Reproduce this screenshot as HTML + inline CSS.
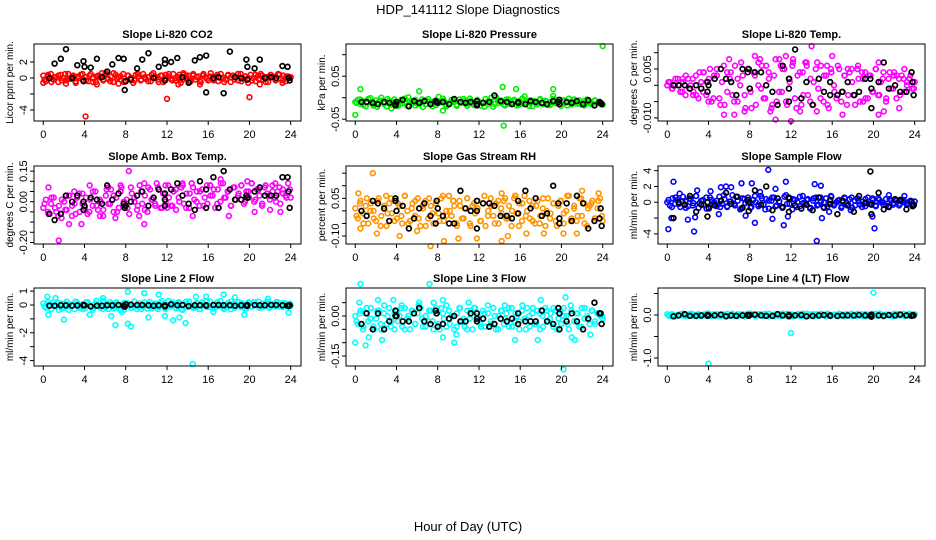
<!DOCTYPE html>
<html><head><meta charset="utf-8"><style>
html,body{margin:0;padding:0;background:#fff;}
svg{display:block;font-family:"Liberation Sans",sans-serif;}
</style></head><body>
<svg id="chart" width="936" height="540" xmlns="http://www.w3.org/2000/svg">
<rect width="936" height="540" fill="#fff"/>
<text x="468" y="14" font-size="13" text-anchor="middle">HDP_141112  Slope Diagnostics</text>
<text x="468" y="531" font-size="13" text-anchor="middle">Hour of Day (UTC)</text>
<g id="panels"></g>
</svg>
<script>
// shared hours of the black (reference) points
const blackHours=[0.6,1.1,1.7,2.2,2.8,3.3,3.9,3.9,4,4.6,5.2,5.7,6.2,6.7,7.3,7.8,7.9,8,8.5,9.1,9.6,10.2,10.7,11.2,11.8,11.8,11.8,12.4,13,13.5,14.1,14.7,15.2,15.8,15.8,16.5,17,17.5,18.1,18.6,19.2,19.7,19.8,19.8,20.5,21,21.5,22.1,22.6,23.2,23.7,23.8,23.9];
const xTicks=[0,4,8,12,16,20,24];

// Panel 1 CO2
const p1Cloud=[0.3,-0.4,0.2,0.5,-0.2,0.1,-0.5,0.4,0,-0.3,0.5,-0.1,0.3,-0.6,0.2,0.4,-0.2,0.1,-0.4,0.5,0,-0.5,0.3,0.2,-0.3,0.6,-0.1,0.2,-0.5,0.4,0.1,-0.2,0.5,-0.4,0.3,0,-0.6,0.4,0.2,-0.3,0.5,-0.1,0.1,-0.4,0.6,0,-0.2,0.3,-0.5,0.4,0.2,-0.1,0.5,-0.3,0.1,-0.6,0.4,0,0.3,-0.4,0.5,-0.2,0.2,-0.5,0.3,0.1,-0.3,0.6,-0.1,0.2,-0.4,0.5,0,-0.2,0.4,-0.5,0.3,0.1,-0.3,0.5,-0.1,0.2,-0.6,0.4,0,-0.4,0.3,0.5,-0.2,0.1,-0.5,0.4,0.2,-0.3,0.5,-0.1,0.3,-0.4,0.2,0.1];
const p1Cloud2=[-0.2,0.4,-0.5,0.1,0.3,-0.3,0.5,-0.1,0.2,-0.4,0,0.5,-0.3,0.3,-0.5,0.2,0.1,-0.2,0.4,-0.4,0.6,-0.1,0.2,-0.5,0.3,0,-0.3,0.5,-0.2,0.1,-0.4,0.4,0.2,-0.5,0.3,-0.1,0.5,-0.3,0,0.4,-0.2,0.2,-0.5,0.3,0.1,-0.4,0.5,-0.1,0.2,-0.3,0.4,0,-0.5,0.3,0.1,-0.2,0.5,-0.4,0.2,0,-0.3,0.4,-0.1,0.3,-0.5,0.2,0.1,-0.2,0.4,-0.3,0.2,0];
const p1OutHours=[4.1,12,20,0,2.2,5.2,7.3,13.1,15.2,21,23.2,5.7,13.6];
const p1OutVals=[-4.8,-2.6,-2.4,-0.6,-0.7,-0.8,-0.7,-0.8,-0.8,-0.8,-0.6,0.6,0.6];
const p1Black=[0,1.8,2.4,3.6,0,1.6,2.1,-0.4,1.4,1.3,2.4,0.1,0.8,1.7,2.5,2.4,-1.5,-0.4,-0.2,1.2,2.3,3.1,0,1.4,2.3,1.8,-0.3,2,2.5,0.1,-0.6,2.2,2.6,2.8,-1.8,0,0.1,-1.9,3.3,0.1,0,2.3,1.4,-0.2,1.2,2.3,0,0.1,0,1.5,1.4,0,-0.3];
const p1Ticks=[-4,-2,0,2];const p1Labels=["-4","","0","2"];

// Panel 2 Pressure
const p2Cloud=[-0.01,-0.005,-0.015,-0.008,-0.02,-0.003,-0.012,-0.018,-0.006,-0.01,0,-0.014,-0.02,-0.007,-0.011,-0.004,-0.016,-0.009,-0.013,-0.002,-0.019,-0.008,-0.012,-0.005,-0.015,-0.01,-0.022,-0.006,-0.003,-0.014,-0.009,-0.017,0.002,-0.011,-0.007,-0.02,-0.013,-0.005,-0.01,-0.016,-0.004,-0.012,-0.008,-0.019,-0.002,-0.014,-0.01,-0.006,-0.018,-0.011,-0.003,-0.015,-0.009,-0.021,0.001,-0.012,-0.007,-0.016,-0.004,-0.013,-0.01,-0.005,-0.018,-0.008,-0.014,0.003,-0.011,-0.006,-0.02,-0.009,-0.015,-0.003,-0.012,-0.007,-0.017,-0.01,0.004,-0.013,-0.005,-0.019,-0.008,-0.011,-0.002,-0.016,-0.009,-0.014,-0.006,-0.012,-0.018,-0.004,-0.01,-0.015,-0.007,-0.013,-0.011,-0.016];
const p2Cloud2=[-0.012,-0.004,-0.017,-0.009,-0.001,-0.014,-0.021,-0.007,-0.011,-0.003,-0.016,-0.01,-0.019,-0.005,-0.013,0.001,-0.008,-0.018,-0.012,-0.004,-0.015,-0.009,-0.02,-0.006,-0.011,-0.002,-0.016,-0.013,-0.007,-0.019,-0.01,-0.003,-0.014,-0.008,-0.017,-0.005,-0.012,-0.021,-0.009,0,-0.015,-0.006,-0.011,-0.018,-0.004,-0.013,-0.008,-0.016,-0.002,-0.01,-0.019,-0.007,-0.012,-0.005,-0.015,-0.009,-0.017,-0.003,-0.011,-0.014,-0.006,-0.018,-0.01,-0.004,-0.013,-0.016,-0.008,-0.012,-0.015,-0.006,-0.011,-0.014];
const p2OutHours=[0,0.5,14.4,14.3,15.6,19.2,24,8.5,6.2,3.5];
const p2OutVals=[-0.04,0.02,-0.065,0.025,0.02,0.02,0.12,-0.03,0.015,-0.025];
const p2Black=[-0.01,-0.01,-0.012,-0.015,-0.01,-0.012,-0.018,-0.015,-0.01,-0.005,-0.02,-0.008,-0.012,-0.008,-0.015,-0.008,-0.01,-0.012,-0.01,-0.015,-0.003,-0.01,-0.012,-0.01,-0.015,-0.018,-0.008,-0.012,-0.01,0.005,-0.008,-0.01,-0.015,-0.01,-0.012,-0.015,-0.008,-0.01,-0.012,-0.015,-0.008,-0.01,-0.005,-0.015,-0.01,-0.012,-0.008,-0.015,-0.006,-0.018,-0.01,-0.012,-0.015];
const p2Ticks=[-0.05,0,0.05,0.1];const p2Labels=["-0.05","","0.05",""];

// Panel 3 Li-820 Temp
const p3Cloud=[0,0.001,-0.001,0,0.002,-0.002,0.001,-0.003,0.002,0,-0.002,0.003,-0.004,0.001,0.004,-0.003,0.002,-0.005,0.003,0.005,-0.004,0.001,-0.006,0.004,0.002,-0.003,0.006,-0.005,0,0.003,-0.007,0.005,-0.002,0.004,-0.006,0.007,-0.001,-0.004,0.006,0.002,-0.007,0.003,-0.005,0.008,-0.002,0.005,-0.006,0.001,0.006,-0.004,0.003,-0.008,0.004,0.007,-0.003,0.002,-0.006,0.005,-0.001,0.006,-0.005,0.003,-0.007,0.004,0,-0.004,0.005,-0.002,0.003,-0.006,0.004,0.001,-0.003,0.005,-0.005,0.002,0.004,-0.004,0.003,-0.002,0.005,-0.003,0.001,0.004,-0.005,0.002,-0.001,0.003,-0.004,0.002,0.003,-0.002,0.001,0.002,-0.001,0.001];
const p3Cloud2=[0.001,-0.001,0.002,0,-0.002,0.003,-0.001,0.002,-0.003,0.004,-0.002,0.001,0.005,-0.004,0.003,-0.006,0.006,-0.002,0.004,-0.005,0.002,0.007,-0.003,0.005,-0.007,0.003,0,0.006,-0.004,0.004,-0.006,0.008,-0.002,0.005,-0.005,0.002,0.007,-0.007,0.004,-0.003,0.006,-0.005,0.001,0.007,-0.004,0.003,-0.006,0.005,-0.002,0.006,-0.005,0.003,-0.003,0.005,-0.006,0.002,0.004,-0.004,0.003,-0.002,0.005,-0.003,0.002,-0.004,0.004,-0.001,0.003,-0.003,0.002,0,0.003,-0.001];
const p3OutHours=[3.5,6,6.5,5.5,8.5,9,10,10.5,11,11.5,12,12.2,13.5,14,14.5,15.5,16,17,17.5,18.5,19,20.5,20.5,21,22,22.5,23,4,7.5,13,2.5,1.5];
const p3OutVals=[0.004,0.008,-0.009,-0.009,0.009,0.008,-0.008,-0.0105,0.006,0.009,-0.011,0.008,0.007,0.012,-0.008,0.006,0.009,-0.009,0.005,0.006,-0.005,0.007,-0.009,-0.008,0.004,-0.007,0.005,-0.005,-0.008,-0.006,-0.003,0.002];
const p3Black=[0,0,0,-0.001,0,-0.001,0.001,-0.002,0,0.002,0.005,0.002,0.001,-0.003,0.005,0.004,0.005,-0.001,0.004,0.004,0,-0.002,-0.006,0.006,0.002,-0.001,-0.005,0.011,-0.004,0.001,-0.006,0.002,-0.002,0.001,-0.003,-0.003,-0.002,0.001,-0.003,-0.002,0.002,0.002,-0.001,-0.007,0.001,0.007,-0.001,0,-0.002,-0.002,0.004,0.001,-0.003];
const p3Ticks=[-0.01,-0.005,0,0.005,0.01];const p3Labels=["-0.010","","","0.005",""];

// Panel 4 Amb Box Temp
const p4Cloud=[-0.03,0.01,-0.06,-0.01,0.02,-0.05,-0.02,-0.08,0,-0.04,0.03,-0.07,-0.01,0.02,-0.05,0.04,-0.03,-0.06,0.01,-0.02,0.05,-0.04,0,-0.07,0.03,-0.01,0.06,-0.05,0.02,-0.03,0.07,-0.02,0.01,-0.06,0.04,0,-0.04,0.08,-0.01,0.03,-0.05,0.06,0.01,-0.02,0.07,-0.03,0.04,0,0.08,-0.02,0.05,-0.04,0.02,0.07,-0.01,0.04,-0.03,0.09,0.01,0.05,-0.02,0.06,0.02,-0.01,0.08,0.03,-0.03,0.06,0,0.09,0.02,0.05,-0.02,0.07,0.01,0.04,0.08,-0.01,0.05,0.02,0.09,0,0.06,0.03,-0.02,0.07,0.04,0.01,0.08,0.02,0.05,-0.01,0.06,0.03,0.09,0.02];
const p4Cloud2=[-0.01,-0.05,0.02,-0.03,-0.07,0.01,-0.04,0.03,-0.02,-0.06,0.04,-0.01,0.02,-0.05,0.05,-0.02,0.01,-0.04,0.06,-0.01,0.03,-0.05,0.05,0,-0.03,0.07,0.02,-0.02,0.05,-0.04,0.07,0.01,-0.01,0.06,-0.03,0.08,0.02,-0.02,0.06,0,0.08,-0.03,0.04,0.07,0,0.05,-0.02,0.08,0.03,0.06,-0.01,0.09,0.02,0.05,-0.02,0.07,0.03,0.08,0,0.05,0.09,0.01,0.06,-0.01,0.08,0.03,0.05,0,0.07,0.04,0.02,0.06];
const p4OutHours=[0.5,1.5,2.5,3.7,4.5,5.5,7,7.5,8.3,9.8,9.3,9.8,11,12,13.5,14.5,16.2,17.2,18,19.8,20.5,22.5,23,22,3,6.3];
const p4OutVals=[0.07,-0.19,-0.11,-0.11,0.08,-0.07,-0.08,0.08,0.15,0.09,-0.07,-0.11,0.09,-0.03,0.09,-0.07,0.08,0.11,-0.07,0.1,-0.05,0.09,-0.05,-0.04,0.05,0.07];
const p4Black=[-0.06,-0.09,-0.06,0.03,0,0.03,0,-0.04,-0.02,0.02,0.01,-0.01,0.08,0.01,0.04,-0.01,-0.03,-0.02,0,0.03,0.05,-0.02,0.02,0.06,0.04,0.01,-0.02,0.06,0.09,0.03,-0.01,-0.04,0.1,0.06,-0.03,0.12,-0.03,0.15,0.06,0.01,0.01,0.03,0.02,0.02,0.05,0.07,0.03,0.03,0.03,0.12,0.12,0.05,-0.03];
const p4Ticks=[-0.2,-0.15,-0.1,-0.05,0,0.05,0.1,0.15];const p4Labels=["-0.20","","","","0.00","","","0.15"];

// Panel 5 Gas Stream RH
const p5Cloud=[0.01,-0.03,0.04,-0.01,0.02,-0.05,0.03,0,-0.04,0.05,-0.02,0.01,-0.06,0.03,-0.01,0.04,-0.03,0.02,-0.05,0.06,0,-0.04,0.03,-0.02,0.05,-0.06,0.01,0.04,-0.03,0.02,-0.05,0.03,-0.01,0.05,-0.04,0,0.06,-0.02,0.02,-0.06,0.04,-0.03,0.01,0.05,-0.05,0.02,-0.01,0.04,-0.04,0.03,-0.06,0,0.05,-0.02,0.03,-0.05,0.01,0.04,-0.03,0.02,-0.06,0.05,-0.01,0.03,-0.04,0.06,0,-0.03,0.02,-0.05,0.04,-0.02,0.01,-0.06,0.05,-0.01,0.03,-0.04,0.02,0.04,-0.05,0,0.06,-0.03,0.01,-0.04,0.05,-0.02,0.03,-0.06,0.02,0.04,-0.03,0.01,0.05,-0.04];
const p5Cloud2=[-0.02,0.03,-0.05,0.05,0,-0.03,0.04,-0.06,0.02,-0.01,0.05,-0.04,0.03,-0.02,0.06,-0.05,0.01,0.04,-0.03,0.02,-0.06,0.05,-0.01,0.03,-0.04,0.06,-0.02,0,0.04,-0.05,0.02,-0.03,0.05,-0.06,0.03,0.01,-0.04,0.06,-0.02,0.02,-0.05,0.04,-0.01,0.05,-0.03,0,0.06,-0.06,0.03,-0.02,0.04,-0.04,0.02,-0.05,0.05,0,-0.03,0.03,-0.06,0.04,-0.01,0.06,-0.04,0.02,-0.02,0.05,-0.05,0.01,0.03,-0.03,0.04,-0.02];
const p5OutHours=[1.7,0.3,0.5,2.1,4.3,7.3,8.6,10,11.8,14.2,14.2,14.8,15.5,16.6,18.3,20.2,21.5,22,23.6,6,3,9.5];
const p5OutVals=[0.15,0.07,-0.07,-0.09,-0.1,-0.14,-0.12,-0.11,-0.11,-0.12,0.07,-0.1,0.06,-0.09,-0.09,-0.09,-0.09,0.08,0.07,-0.08,0.06,0.04];
const p5Black=[0,-0.02,0.04,0.03,0.01,-0.04,0.04,0.05,0,0.02,-0.07,-0.03,0.01,0.03,-0.02,-0.05,0.04,0.01,-0.02,-0.05,-0.05,0.08,0.01,0,0.04,0,-0.07,0.03,0.03,0.02,-0.02,-0.02,-0.03,0.04,-0.01,0.08,0.01,0.05,-0.02,-0.01,0.1,0.03,-0.03,-0.05,0.03,-0.04,0.06,0.03,-0.07,-0.04,-0.03,0.01,-0.06];
const p5Ticks=[-0.1,-0.05,0,0.05,0.1,0.15];const p5Labels=["-0.10","","","0.05","",""];

// Panel 6 Sample Flow
const p6Cloud=[0,-0.4,0.5,-0.2,0.3,-0.6,0.7,0.1,-0.5,0.4,-0.1,0.8,-0.7,0.2,-0.3,0.6,-0.8,0.3,0,-0.5,0.7,-0.2,0.4,-0.6,0.1,0.9,-0.4,0.2,-0.9,0.5,-0.1,0.6,-0.7,0.3,0,-0.5,0.8,-0.3,0.4,-0.8,0.2,0.6,-0.4,0.1,-0.6,0.7,-0.2,0.5,-0.9,0.3,0,-0.5,0.8,-0.1,0.4,-0.7,0.2,0.6,-0.3,0.1,-0.6,0.5,-0.2,0.7,-0.4,0,0.3,-0.5,0.6,-0.1,0.4,-0.7,0.2,0.5,-0.3,0.1,-0.5,0.6,-0.2,0.3,-0.4,0.5,0,-0.3,0.4,-0.5,0.2,-0.1,0.3,-0.4,0.2,0,-0.3,0.1,-0.2,0.1];
const p6Cloud2=[0.3,-0.6,0.6,-0.2,0.1,-0.7,0.5,-0.4,0.8,-0.1,0.3,-0.8,0.6,-0.3,0.2,-0.6,0.9,-0.5,0.1,-0.2,0.7,-0.8,0.4,0,-0.6,0.8,-0.3,0.5,-0.9,0.2,0.6,-0.5,0.1,-0.7,0.9,-0.2,0.4,-0.6,0.7,-0.1,0.3,-0.8,0.5,-0.4,0.6,0,-0.5,0.8,-0.2,0.2,-0.7,0.5,-0.3,0.6,-0.4,0.1,-0.6,0.4,-0.2,0.5,-0.5,0.3,0,-0.4,0.4,-0.3,0.2,-0.2,0.3,-0.1,0.2,-0.3];
const p6OutHours=[0.1,0.4,0.6,1.2,2,2.6,2.7,2.9,4.2,5.2,5.7,6.2,7.2,7.6,8.2,8.5,9.8,10.2,10.5,11.5,11.7,11.3,14.3,14.5,14.9,15,15.7,19.9,20.1,5,9,17.8,21.5,23];
const p6OutVals=[-3.4,-2,2.6,1.1,-2.2,-3.7,-1.9,1.5,1.4,1.9,2,1.9,2.4,-1.7,2.4,-2.6,4.1,-2.1,1.7,2.6,-1.8,-2.9,2.3,-4.9,2.1,-2,-1.2,-1.8,-3.3,-1.5,1.3,-1,0.9,0.8];
const p6Black=[-2,0,-0.3,0.8,-1.2,-0.3,-1.8,0,-0.7,-0.4,0.2,1.2,-0.2,0.7,-0.7,0.3,-1.1,0,1.5,-0.3,2,-1,0.5,-0.6,0.6,0.5,-1.2,-0.4,-0.8,-0.3,-1,0.6,-0.7,0.3,-0.2,-1.5,0.2,-0.4,-1.2,0.8,-0.1,3.9,-0.3,-1.5,1.2,-0.9,-0.6,0.4,0.3,-0.9,0.1,-0.5,-0.4];
const p6Ticks=[-4,-2,0,2,4];const p6Labels=["-4","","0","2","4"];

// Panel 7 Line 2 Flow
const p7Cloud=[0.1,-0.2,0,-0.3,0.2,-0.1,-0.35,0.1,-0.2,0.25,-0.1,0,-0.3,0.15,-0.2,0.05,-0.25,0.2,-0.1,-0.35,0.1,0,-0.2,0.3,-0.15,-0.3,0.05,-0.1,0.2,-0.25,0,-0.35,0.15,-0.05,-0.2,0.25,-0.3,0.1,-0.1,0,-0.25,0.2,-0.15,0.05,-0.3,0.15,-0.05,-0.2,0.3,-0.1,0,-0.25,0.2,-0.3,0.05,-0.15,0.25,-0.05,-0.2,0.1,-0.3,0.2,0,-0.15,0.25,-0.25,0.05,-0.1,0.3,-0.2,0,0.15,-0.3,0.1,-0.05,0.2,-0.15,0.05,-0.25,0.15,-0.1,0.2,0,-0.2,0.1,-0.05,0.25,-0.15,0.05,-0.1,0.2,0,-0.15,0.1,0.05,-0.05];
const p7Cloud2=[-0.1,0.2,-0.3,0,0.15,-0.25,0.1,-0.35,0.05,0.25,-0.15,-0.3,0.2,0,-0.2,0.3,-0.1,-0.3,0.1,0.2,-0.25,0.05,-0.35,0.15,0,-0.2,0.25,-0.1,-0.3,0.2,0.05,-0.25,0.1,-0.15,0.3,-0.3,0,0.2,-0.2,0.1,-0.35,0.25,-0.05,-0.2,0.15,-0.3,0.05,0.3,-0.15,-0.25,0.2,0,-0.3,0.1,0.25,-0.2,-0.05,0.15,-0.25,0.2,-0.1,0,0.25,-0.15,0.1,-0.2,0.05,0.2,-0.1,0.15,-0.05,0.1];
const p7OutHours=[0.4,0.5,1.2,2,4.5,5.8,6.6,7,7.6,8.2,8.2,8.5,9.8,10.2,11.2,11.8,12.6,13.2,13.8,14.5,14.8,15.8,16.5,17.5,18.6,19.5,23.8,21.8];
const p7OutVals=[0.6,-0.7,0.5,-1.05,-0.7,0.5,-0.8,-1.45,-0.5,0.95,-1.35,-1.55,0.85,-0.9,0.75,-0.8,-1.1,-0.9,-1.3,-4.25,0.6,0.6,-0.5,0.75,0.55,-0.7,-0.55,0.45];
const p7Black=[-0.05,-0.05,-0.02,-0.03,-0.05,-0.03,0,-0.02,-0.02,-0.1,-0.05,-0.05,-0.02,-0.03,0,-0.05,-0.12,0.05,0.02,0,0,-0.02,-0.05,-0.02,-0.05,-0.1,-0.03,0.05,-0.02,0,-0.08,-0.02,-0.02,-0.05,-0.02,0,0,-0.02,-0.02,-0.05,-0.02,-0.05,0,-0.05,0,-0.02,-0.02,0,0,-0.02,-0.05,-0.08,-0.02];
const p7Ticks=[-4,-3,-2,-1,0,1];const p7Labels=["-4","","-2","","0","1"];

// Panel 8 Line 3 Flow
const p8Cloud=[0,-0.03,0.02,-0.05,0.01,-0.02,0.03,-0.04,-0.01,0.02,-0.05,0.01,-0.03,0.03,-0.02,-0.05,0.02,0,-0.04,0.03,-0.01,-0.05,0.02,-0.03,0.01,0.03,-0.04,0,-0.02,0.02,-0.05,0.01,-0.03,0.03,-0.01,-0.04,0.02,0,-0.05,0.01,0.03,-0.02,-0.04,0.02,-0.01,-0.05,0.03,0,-0.03,0.02,-0.04,0.01,-0.02,0.03,-0.05,0,0.02,-0.03,0.01,-0.04,0.03,-0.02,0,-0.05,0.02,-0.01,0.03,-0.04,0.01,-0.03,0.02,-0.05,0,0.03,-0.02,0.01,-0.04,0.02,-0.01,-0.03,0.03,0,-0.05,0.02,-0.02,0.01,-0.04,0.03,-0.01,0,-0.03,0.02,-0.02,0.01,0,-0.01];
const p8Cloud2=[-0.02,0.01,-0.04,0.03,-0.01,-0.05,0.02,-0.03,0.04,0,-0.04,0.01,-0.02,0.03,-0.05,0,0.02,-0.03,0.04,-0.01,-0.04,0.02,-0.02,0.03,-0.05,0.01,0.04,-0.03,0,-0.04,0.03,-0.01,-0.05,0.02,0.03,-0.02,-0.04,0.01,0.04,-0.03,0,-0.05,0.02,-0.01,0.03,-0.04,0.01,-0.02,0.04,-0.05,0,0.03,-0.03,0.01,-0.04,0.02,-0.01,0.03,-0.05,0.02,0,-0.03,0.04,-0.02,0.01,-0.04,0.03,-0.01,0.02,-0.03,0.01,0];
const p8OutHours=[0,0.5,0.4,1,1.3,2.2,2.6,3.7,4.5,6.2,7.2,7.6,8.5,8.5,9.6,9.8,14.5,15.5,17.7,18,20.2,20.4,21,21.3,22.8,11];
const p8OutVals=[-0.1,0.12,0.05,-0.11,-0.08,0.06,-0.09,0.06,0.04,0.05,0.12,0.05,0.06,-0.08,-0.1,-0.07,0.04,-0.09,-0.09,0.06,-0.2,0.07,-0.08,-0.09,-0.07,0.05];
const p8Black=[-0.03,0.01,-0.05,0.01,-0.05,-0.02,0,0.02,0,-0.02,-0.02,0.01,0.03,-0.02,-0.03,0.02,0.01,-0.04,-0.03,-0.01,0,-0.02,-0.02,0.01,0.01,-0.02,-0.01,-0.01,-0.04,-0.03,-0.01,-0.02,-0.01,0.01,-0.03,-0.02,-0.02,-0.02,0.02,-0.02,-0.03,0.03,-0.05,0.01,-0.02,0.01,-0.02,-0.05,-0.01,0.05,0.01,0.01,-0.03];
const p8Ticks=[-0.15,-0.1,-0.05,0,0.05];const p8Labels=["-0.15","","","0.00",""];

// Panel 9 Line 4 (LT) Flow
const p9Cloud=[0.02,-0.02,0.01,-0.03,0,0.02,-0.01,-0.03,0.01,0.03,-0.02,0,0.02,-0.03,0.01,-0.01,0.03,-0.02,0,0.02,-0.03,0.01,-0.01,0.02,-0.02,0.03,0,-0.03,0.01,0.02,-0.01,-0.02,0.03,0,-0.03,0.01,0.02,-0.02,0,0.03,-0.01,-0.03,0.02,0.01,-0.02,0,0.03,-0.03,0.01,-0.01,0.02,-0.02,0.03,0,-0.03,0.01,0.02,-0.01,-0.02,0.03,0,-0.03,0.02,-0.01,0.01,-0.02,0.03,0,-0.03,0.02,0.01,-0.02,0,0.03,-0.01,-0.03,0.02,0.01,-0.02,0,0.03,-0.01,0.02,-0.03,0.01,0,-0.02,0.03,-0.01,0.02,0,-0.02,0.01,0.03,-0.01,0.02];
const p9Cloud2=[-0.01,0.02,-0.03,0.01,0.03,-0.02,0,0.02,-0.03,0.01,-0.01,0.03,-0.02,0.02,0,-0.03,0.01,0.03,-0.01,-0.02,0.02,0,-0.03,0.03,0.01,-0.02,0.02,-0.01,0.03,-0.03,0,0.01,-0.02,0.03,-0.01,0.02,-0.03,0,0.02,-0.02,0.03,0.01,-0.03,0.02,-0.01,0,0.03,-0.02,0.01,-0.03,0.02,0,-0.01,0.03,-0.02,0.01,0.02,-0.03,0,0.02,-0.01,0.03,-0.02,0.01,0,-0.03,0.02,-0.01,0.03,0,-0.02,0.01];
const p9OutHours=[4,12,20];
const p9OutVals=[-1.13,-0.42,0.52];
const p9Black=[-0.03,-0.01,0.02,-0.02,-0.02,-0.01,-0.02,0,-0.01,-0.01,0.01,-0.03,-0.01,-0.02,-0.01,0,-0.02,0,0.01,-0.01,-0.02,-0.02,0.02,-0.01,-0.01,-0.03,0,-0.01,0,-0.03,-0.02,-0.01,0,-0.01,-0.02,-0.02,-0.01,-0.01,-0.01,0,-0.01,-0.02,-0.04,0.01,-0.01,-0.02,0,-0.01,0.01,-0.01,-0.02,0,-0.01];
const p9Ticks=[-1,-0.5,0,0.5];const p9Labels=["-1.0","","0.0",""];

const NS="http://www.w3.org/2000/svg";
const panelsG=document.getElementById('panels');
const cols=[[34,301],[346,613],[658,925]];
const rows=[[44,121],[166,244],[288,366]];
const XLIM=[-0.9,25.0];

const panels=[
 {key:'co2',title:'Slope Li-820 CO2',ylab:'Licor ppm per min.',col:'#ff0000',ylim:[-5.375,4.25],cloud:p1Cloud,cloud2:p1Cloud2,oh:p1OutHours,ov:p1OutVals,black:p1Black,ticks:p1Ticks,labels:p1Labels},
 {key:'pressure',title:'Slope Li-820 Pressure',ylab:'kPa per min.',col:'#00ee00',ylim:[-0.0542,0.1249],cloud:p2Cloud,cloud2:p2Cloud2,oh:p2OutHours,ov:p2OutVals,black:p2Black,ticks:p2Ticks,labels:p2Labels},
 {key:'li820-temp',title:'Slope Li-820 Temp.',ylab:'degrees C per min.',col:'#ff00ff',ylim:[-0.01095,0.01267],cloud:p3Cloud,cloud2:p3Cloud2,oh:p3OutHours,ov:p3OutVals,black:p3Black,ticks:p3Ticks,labels:p3Labels},
 {key:'amb-temp',title:'Slope Amb. Box Temp.',ylab:'degrees C per min.',col:'#ff00ff',ylim:[-0.2074,0.175],cloud:p4Cloud,cloud2:p4Cloud2,oh:p4OutHours,ov:p4OutVals,black:p4Black,ticks:p4Ticks,labels:p4Labels},
 {key:'rh',title:'Slope Gas Stream RH',ylab:'percent per min.',col:'#ff9400',ylim:[-0.1317,0.1786],cloud:p5Cloud,cloud2:p5Cloud2,oh:p5OutHours,ov:p5OutVals,black:p5Black,ticks:p5Ticks,labels:p5Labels},
 {key:'sample-flow',title:'Slope Sample Flow',ylab:'ml/min per min.',col:'#0000ff',ylim:[-5.28,4.59],cloud:p6Cloud,cloud2:p6Cloud2,oh:p6OutHours,ov:p6OutVals,black:p6Black,ticks:p6Ticks,labels:p6Labels},
 {key:'line2-flow',title:'Slope Line 2 Flow',ylab:'ml/min per min.',col:'#00ffff',ylim:[-4.39,1.223],cloud:p7Cloud,cloud2:p7Cloud2,oh:p7OutHours,ov:p7OutVals,black:p7Black,ticks:p7Ticks,labels:p7Labels},
 {key:'line3-flow',title:'Slope Line 3 Flow',ylab:'ml/min per min.',col:'#00ffff',ylim:[-0.1873,0.1049],cloud:p8Cloud,cloud2:p8Cloud2,oh:p8OutHours,ov:p8OutVals,black:p8Black,ticks:p8Ticks,labels:p8Labels},
 {key:'line4-flow',title:'Slope Line 4 (LT) Flow',ylab:'ml/min per min.',col:'#00ffff',ylim:[-1.186,0.628],cloud:p9Cloud,cloud2:p9Cloud2,oh:p9OutHours,ov:p9OutVals,black:p9Black,ticks:p9Ticks,labels:p9Labels}
];

function mk(tag,attrs,parent){const e=document.createElementNS(NS,tag);for(const k in attrs)e.setAttribute(k,attrs[k]);parent.appendChild(e);return e;}

panels.forEach((p,i)=>{
  const [L,R]=cols[i%3];const [T,B]=rows[Math.floor(i/3)];
  const xs=h=>L+(h-XLIM[0])/(XLIM[1]-XLIM[0])*(R-L);
  const ys=v=>B-(v-p.ylim[0])/(p.ylim[1]-p.ylim[0])*(B-T);
  const g=mk('g',{},panelsG);
  
  
  const t=mk('text',{x:(L+R)/2,y:T-6,'font-size':11,'font-weight':'bold','text-anchor':'middle'},g);
  t.textContent=p.title;
  
  
  const yl=mk('text',{x:L-21,y:(T+B)/2,'font-size':10,'text-anchor':'middle',transform:`rotate(-90 ${L-21} ${(T+B)/2})`},g);
  yl.textContent=p.ylab;
  
  
  const pts=mk('g',{fill:'none'},g);
  
  
  const n=p.cloud.length;
  p.cloud.forEach((v,k)=>{
    const c=mk('circle',{cx:xs(k*24/(n-1)),cy:ys(v),r:2.4,stroke:p.col,'stroke-width':1.6},pts);
    
    
  });
  const n2=p.cloud2.length;
  p.cloud2.forEach((v,k)=>{
    const c=mk('circle',{cx:xs(0.12+k*23.8/(n2-1)),cy:ys(v),r:2.4,stroke:p.col,'stroke-width':1.6},pts);
    
    
  });
  p.oh.forEach((h,k)=>{
    const c=mk('circle',{cx:xs(h),cy:ys(p.ov[k]),r:2.4,stroke:p.col,'stroke-width':1.6},pts);
    
    
  });
  const bg=mk('g',{fill:'none'},g);
  
  
  p.black.forEach((v,k)=>{
    const c=mk('circle',{cx:xs(blackHours[k]),cy:ys(v),r:2.4,stroke:'#000','stroke-width':1.7},bg);
    
    
  });
  const bx=mk('rect',{x:L,y:T,width:R-L,height:B-T,fill:'none',stroke:'#000','stroke-width':1},g);
  
  
  xTicks.forEach(h=>{
    const x=xs(h);
    mk('line',{x1:x,y1:B,x2:x,y2:B+4,stroke:'#000'},g);
    const tl=mk('text',{x:x,y:B+17,'font-size':11,'text-anchor':'middle'},g);
    tl.textContent=String(h);
    
    
  });
  p.ticks.forEach((v,k)=>{
    const y=ys(v);
    mk('line',{x1:L-4,y1:y,x2:L,y2:y,stroke:'#000'},g);
    if(p.labels[k]){
      const tl=mk('text',{x:L-7,y:y,'font-size':11,'text-anchor':'middle',transform:`rotate(-90 ${L-7} ${y})`},g);
      tl.textContent=p.labels[k];
      
      
    }
  });
});
</script>
</body></html>
